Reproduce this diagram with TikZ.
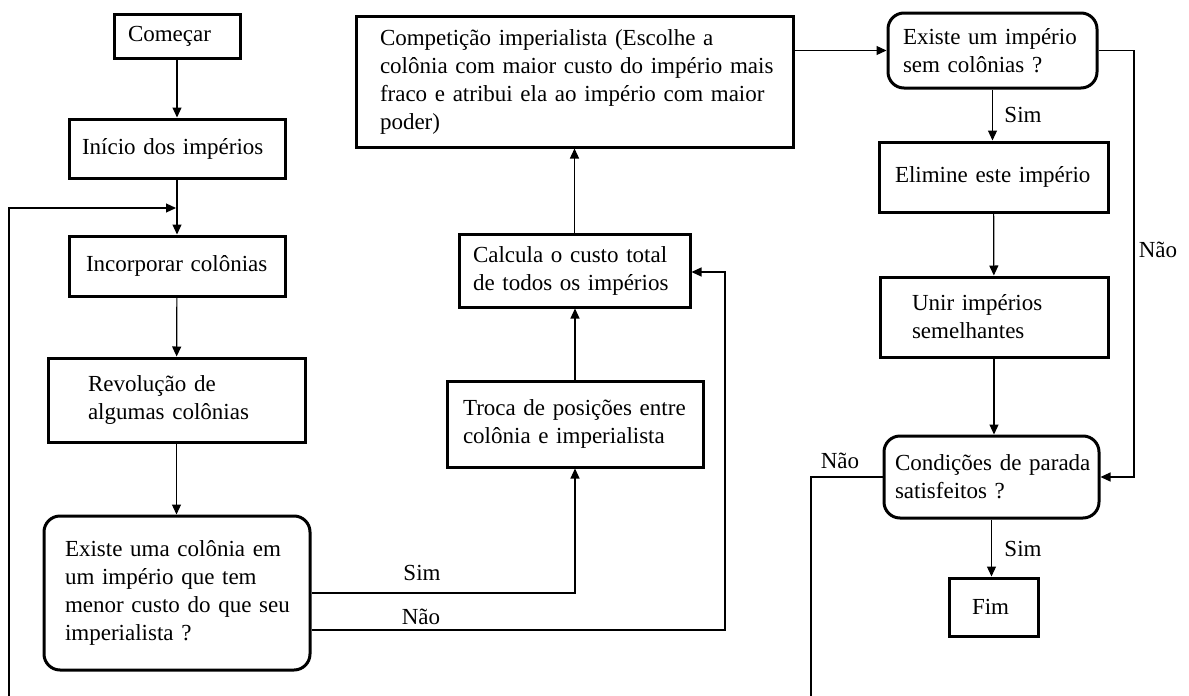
\documentclass[tikz,border=0pt]{standalone}
\usepackage{fontspec}
\setmainfont{Liberation Serif}
\usetikzlibrary{arrows.meta}
\begin{document}
\begin{tikzpicture}[x=1pt,y=-1pt,
  every node/.style={font=\fontsize{23}{28}\selectfont},
  blk/.style={draw, line width=3pt, align=left, inner ysep=0pt},
  dec/.style={blk, rounded corners=16pt},
  arr/.style={line width=1.2pt, -{Triangle[length=10pt,width=9pt]}},
  ln/.style={line width=1.2pt},
  lbl/.style={inner sep=0pt}]
\useasboundingbox (0,0) rectangle (1189,696);

\node[blk, minimum width=126pt, minimum height=44pt, text width=98pt, inner xsep=14pt] (start) at (177,36) {\mbox{Começar}};
\node[blk, minimum width=216pt, minimum height=59pt, text width=190pt, inner xsep=13pt] (init) at (177,148.5) {\mbox{Início dos impérios}};
\node[blk, minimum width=216pt, minimum height=60pt, text width=182pt, inner xsep=17pt] (incorp) at (177,266) {\mbox{Incorporar colônias}};
\node[blk, minimum width=257pt, minimum height=84pt, text width=177pt, inner xsep=40pt] (revol) at (176.5,400) {\mbox{Revolução de}\\\mbox{algumas colônias}};
\node[dec, minimum width=266pt, minimum height=154pt, text width=224pt, inner xsep=21pt] (dec1) at (177,593) {\mbox{Existe uma colônia em}\\\mbox{um império que tem}\\\mbox{menor custo do que seu}\\\mbox{imperialista ?}};
\node[blk, minimum width=256pt, minimum height=86pt, text width=224pt, inner xsep=16pt] (troca) at (575,424) {\mbox{Troca de posições entre}\\\mbox{colônia e imperialista}};
\node[blk, minimum width=231pt, minimum height=73pt, text width=203pt, inner xsep=14pt] (calc) at (574.5,270.5) {\mbox{Calcula o custo total}\\\mbox{de todos os impérios}};
\node[blk, minimum width=437pt, minimum height=131pt, text width=389pt, inner xsep=24pt] (comp) at (574.5,81.5) {\mbox{Competição imperialista (Escolhe a}\\\mbox{colônia com maior custo do império mais}\\\mbox{fraco e atribui ela ao império com maior}\\\mbox{poder)}};
\node[dec, minimum width=209pt, minimum height=75pt, text width=179pt, inner xsep=15pt] (dec2) at (992.5,50.5) {\mbox{Existe um império}\\\mbox{sem colônias ?}};
\node[blk, minimum width=229pt, minimum height=70pt, text width=197pt, inner xsep=16pt] (elim) at (993.5,177) {\mbox{Elimine este império}};
\node[blk, minimum width=228pt, minimum height=80pt, text width=164pt, inner xsep=32pt] (unir) at (994,317) {\mbox{Unir impérios}\\\mbox{semelhantes}};
\node[dec, minimum width=215pt, minimum height=82pt, text width=193pt, inner xsep=11pt] (cond) at (991.5,477) {\mbox{Condições de parada}\\\mbox{satisfeitos ?}};
\node[blk, minimum width=89pt, minimum height=58pt, text width=43pt, inner xsep=23pt] (fim) at (993.5,607) {\mbox{Fim}};

\coordinate (endA) at (9,696);
\coordinate (loopin) at (176,208);
\coordinate (endB) at (811,696);

\draw[arr] (start) -- (init);
\draw[arr] (init) -- (incorp);
\draw[arr] (incorp) -- (revol);
\draw[arr] (revol.south) -- (revol.south |- dec1.north);
\draw[ln, arr] (endA) |- (loopin);
\draw[arr] (dec1.east) -| (troca.south);
\draw[arr] (dec1.east |- 0,630) -- (725,630) -- (725,272) -- (calc.east |- 0,272);
\draw[arr] (troca.north) -- (troca.north |- calc.south);
\draw[arr] (calc) -- (comp);
\draw[arr] (comp.east |- dec2.west) -- (dec2.west);
\draw[arr] (dec2.south) -- (dec2.south |- elim.north);
\draw[arr] (elim) -- (unir);
\draw[arr] (unir.south) -- (unir.south |- cond.north);
\draw[arr] (cond.south) -- (cond.south |- fim.north);
\draw[arr] (dec2.east) -- (1134,50.5) |- (cond.east);
\draw[ln] (cond.west) -| (endB);

\node[lbl] (s1) at (422,573) {Sim};
\node[lbl] (n1) at (421,617) {Não};
\node[lbl] (s2) at (1023,115) {Sim};
\node[lbl] (n2) at (1158,250) {Não};
\node[lbl] (n3) at (840,461) {Não};
\node[lbl] (s3) at (1023,549) {Sim};
\end{tikzpicture}
\end{document}
